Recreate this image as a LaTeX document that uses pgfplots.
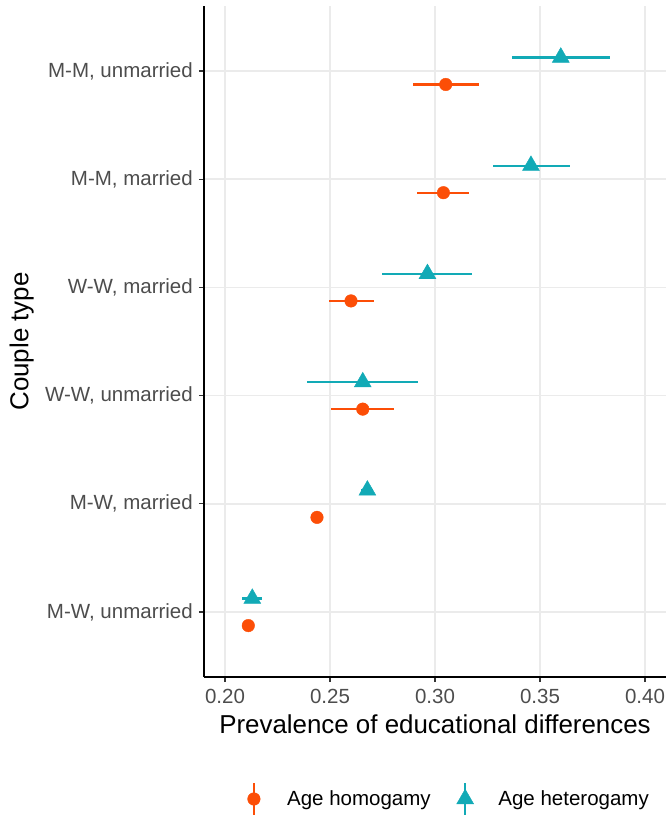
\documentclass[border=0pt]{standalone}
\usepackage{fontspec}
\setmainfont{Liberation Sans}
\usepackage{pgfplots}
\usepackage{pgfplotstable}
\pgfplotsset{compat=1.18}
\definecolor{orangeC}{HTML}{FC4E07}
\definecolor{tealC}{HTML}{12AAB6}
\definecolor{gridC}{HTML}{EBEBEB}
\definecolor{tickC}{HTML}{333333}
\definecolor{labelC}{HTML}{4D4D4D}
\newcommand{\ticksize}{\fontsize{20.5}{24}\selectfont}
\newcommand{\titlesize}{\fontsize{25.9}{30}\selectfont}

\pgfplotsset{
  orangeleg/.style={legend image code/.code={\draw[orangeC,line width=2pt] (0pt,-16pt)--(0pt,16pt); \draw[##1] plot coordinates {(0pt,0pt)}; \path (-8.5pt,0pt) (33pt,0pt);}},
  tealleg/.style={legend image code/.code={\draw[tealC,line width=2pt] (0pt,-16pt)--(0pt,16pt); \draw[##1] plot coordinates {(0pt,0pt)}; \path (-8.5pt,0pt) (33pt,0pt);}},
}

% y: 5 = M-M unmarried (top) ... 0 = M-W unmarried (bottom)
\pgfplotstableread{
y  o       oL      oH      t       tL      tH
5  0.3051  0.2894  0.3208  0.3599  0.3365  0.3833
4  0.3040  0.2916  0.3163  0.3457  0.3278  0.3643
3  0.2600  0.2495  0.2708  0.2964  0.2749  0.3178
2  0.2656  0.2506  0.2806  0.2656  0.2392  0.2920
1  0.2438  0.2420  0.2456  0.2678  0.2650  0.2706
0  0.2111  0.2095  0.2127  0.2130  0.2083  0.2178
}\data

\begin{document}
\begin{tikzpicture}
\path[use as bounding box] (-204pt,-139pt) rectangle (462pt,677pt);
\begin{axis}[
  at={(0pt,0pt)}, anchor=south west,
  scale only axis, width=462pt, height=671pt,
  xmin=0.19, xmax=0.41, ymin=-0.6, ymax=5.6,
  xtick={0.20,0.25,0.30,0.35,0.40},
  xticklabels={0.20,0.25,0.30,0.35,0.40},
  ytick={0,1,2,3,4,5},
  yticklabels={{M-W, unmarried},{M-W, married},{W-W, unmarried},{W-W, married},{M-M, married},{M-M, unmarried}},
  grid=major,
  major grid style={color=gridC, line width=1.5pt},
  axis x line*=bottom, axis y line*=left,
  axis line style={-, line width=1.8pt, black},
  tick align=outside, major tick length=5pt,
  tick style={color=tickC, line width=1.2pt},
  xtick pos=bottom, ytick pos=left,
  xticklabel style={font=\ticksize, color=labelC, inner sep=0pt, yshift=-7pt},
  yticklabel style={font=\ticksize, color=labelC, inner sep=0pt, xshift=-6pt},
  xlabel={Prevalence of educational differences},
  ylabel={Couple type},
  xlabel style={font=\titlesize, at={(axis description cs:0.5,-0.0835)}, anchor=base},
  ylabel style={font=\titlesize, at={(axis description cs:-0.3799,0.5)}, anchor=base},
  legend columns=2,
  legend cell align=left,
  legend style={at={(axis description cs:0.526,-0.1818)}, anchor=center,
    draw=none, fill=none, font=\ticksize, inner sep=0pt, outer sep=0pt,
    row sep=0pt, column sep=0pt, nodes={inner sep=0pt},
    /tikz/every even column/.append style={column sep=25.8pt}},
]
\addplot[only marks, mark=*, color=orangeC, mark size=6.3pt,
  mark options={draw=none, fill=orangeC}, orangeleg,
  error bars/.cd, x dir=both, x explicit, error mark=none,
  error bar style={line width=2.2pt, color=orangeC}]
  table[x=o, y expr=\thisrow{y}-0.125,
        x error plus expr=\thisrow{oH}-\thisrow{o},
        x error minus expr=\thisrow{o}-\thisrow{oL}] {\data};
\addlegendentry{Age homogamy}
\addplot[only marks, mark=triangle*, color=tealC, mark size=9.8pt,
  mark options={draw=none, fill=tealC}, tealleg,
  error bars/.cd, x dir=both, x explicit, error mark=none,
  error bar style={line width=2.2pt, color=tealC}]
  table[x=t, y expr=\thisrow{y}+0.125,
        x error plus expr=\thisrow{tH}-\thisrow{t},
        x error minus expr=\thisrow{t}-\thisrow{tL}] {\data};
\addlegendentry{Age heterogamy}
\end{axis}
\end{tikzpicture}
\end{document}
